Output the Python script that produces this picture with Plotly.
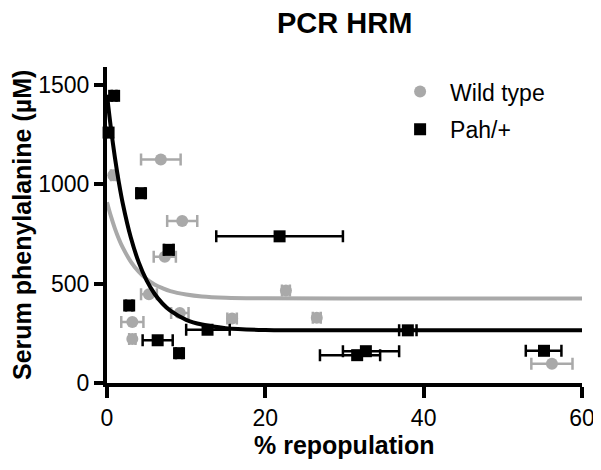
import plotly.graph_objects as go

# --- data ---
# Wild type (mean +/- SEM in x)
wt_x = [0.8, 6.8, 9.5, 7.3, 5.3, 3.2, 3.2, 9.2, 15.8, 22.6, 26.5, 56.2]
wt_y = [1045, 1125, 815, 635, 447, 307, 221, 352, 325, 465, 328, 97]
wt_err = [0.3, 2.5, 1.9, 1.4, 1.0, 1.4, 0.4, 1.1, 0.6, 0.5, 0.5, 2.6]

# Pah/+
pah_x = [0.2, 0.9, 4.3, 7.8, 2.8, 6.4, 9.1, 12.7, 21.8, 38.0, 31.6, 32.7, 55.2]
pah_y = [1260, 1445, 955, 670, 390, 215, 150, 268, 738, 265, 140, 160, 162]
pah_err_minus = [0.3, 0.3, 0.5, 0.6, 0.4, 1.9, 0.4, 2.7, 8.0, 1.1, 4.7, 2.9, 2.3]
pah_err_plus = [0.3, 0.3, 0.5, 0.6, 0.4, 1.9, 0.4, 2.8, 8.0, 1.1, 2.9, 4.2, 2.2]

# fitted decay curves
fit_x = [0, 0.5, 1, 1.5, 2, 3, 4, 5, 6, 7, 8, 10, 12, 15, 20, 30, 60]
wt_fit = [910, 838, 777, 725, 681, 611, 560, 523, 496, 477, 462, 445, 435, 429, 426, 425, 425]
pah_fit = [1450, 1280, 1134, 1009, 902, 733, 608, 516, 449, 400, 364, 318, 294, 276, 267, 265, 265]

GREY = "#a9a9a9"
BLACK = "#000000"
FONT = "Liberation Sans, Arial, Helvetica, sans-serif"

fig = go.Figure()

# --- grey curve + points ---
fig.add_trace(go.Scatter(
    x=fit_x, y=wt_fit, mode="lines", line=dict(color=GREY, width=4, shape="spline"),
    showlegend=False, hoverinfo="skip", cliponaxis=False,
))
fig.add_trace(go.Scatter(
    x=wt_x, y=wt_y, mode="markers", name="Wild type", legend="legend",
    marker=dict(symbol="circle", size=12, color=GREY),
    error_x=dict(type="data", array=wt_err, color=GREY, thickness=2.5, width=6),
    cliponaxis=False,
))

# --- black curve + points ---
fig.add_trace(go.Scatter(
    x=fit_x, y=pah_fit, mode="lines", line=dict(color=BLACK, width=4, shape="spline"),
    showlegend=False, hoverinfo="skip", cliponaxis=False,
))
fig.add_trace(go.Scatter(
    x=pah_x, y=pah_y, mode="markers", name="Pah/+", legend="legend2",
    marker=dict(symbol="square", size=12, color=BLACK),
    error_x=dict(type="data", array=pah_err_plus, arrayminus=pah_err_minus,
                 color=BLACK, thickness=2.5, width=6),
    cliponaxis=False,
))

leg = dict(xanchor="left", yanchor="middle", bgcolor="rgba(0,0,0,0)",
           font=dict(size=23), itemwidth=50)

# page body has an 8px margin, so the figure is 8px smaller each way
fig.update_layout(
    width=593, height=462,
    paper_bgcolor="white", plot_bgcolor="white",
    font=dict(family=FONT, color="black", size=23),
    margin=dict(l=99, r=19, t=59, b=87),
    legend=dict(x=0.596, y=0.922, **leg),
    legend2=dict(x=0.596, y=0.803, **leg),
    showlegend=True,
)

# title and axis titles as annotations so the plot area stays put
fig.add_annotation(text="<b>PCR HRM</b>", xref="paper", yref="paper",
                   x=0.5, y=1.0, yshift=44, xanchor="center", yanchor="middle",
                   showarrow=False, font=dict(size=29))
fig.add_annotation(text="<b>% repopulation</b>", xref="paper", yref="paper",
                   x=0.5, y=0, yshift=-62, xanchor="center", yanchor="middle",
                   showarrow=False, font=dict(size=25))
fig.add_annotation(text="<b>Serum phenylalanine (µM)</b>", xref="paper", yref="paper",
                   x=0, y=0.5, xshift=-85, xanchor="center", yanchor="middle",
                   textangle=-90, showarrow=False, font=dict(size=25))

fig.update_xaxes(
    range=[0, 60], tickvals=[0, 20, 40, 60],
    showline=True, linecolor=BLACK, linewidth=4,
    ticks="outside", ticklen=11, tickwidth=4, tickcolor=BLACK,
    showgrid=False, zeroline=False, automargin=False,
)
fig.update_yaxes(
    range=[0, 1590], tickvals=[0, 500, 1000, 1500],
    showline=True, linecolor=BLACK, linewidth=4,
    ticks="outside", ticklen=9, tickwidth=4, tickcolor=BLACK,
    showgrid=False, zeroline=False, automargin=False,
)

fig.write_html("out.html")
